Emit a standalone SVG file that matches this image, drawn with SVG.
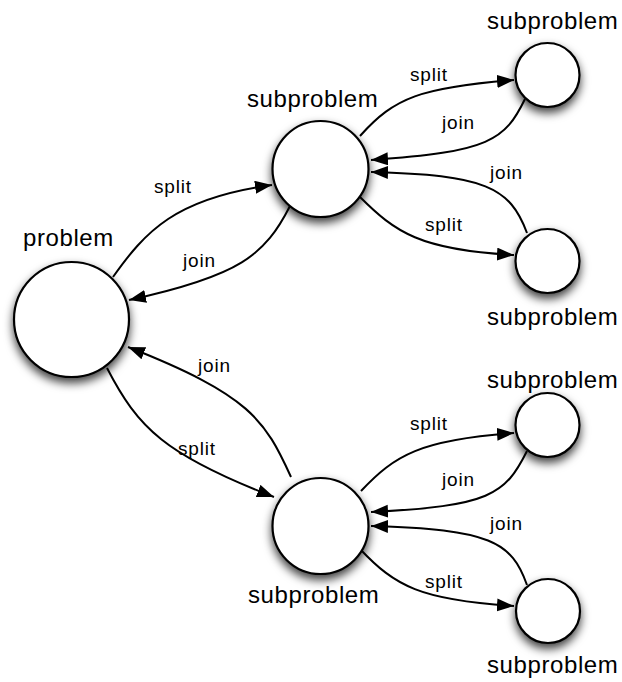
<svg xmlns="http://www.w3.org/2000/svg" width="622" height="682" viewBox="0 0 622 682">
  <style>
    .node { fill: #ffffff; stroke: #000000; stroke-width: 2.2; filter: url(#shadow); }
    .edge { fill: none; stroke: #000000; stroke-width: 2; marker-end: url(#arrow); }
    .title { font-family: "Liberation Sans", Arial, sans-serif; font-size: 24px; letter-spacing: 0.6px; fill: #000000; }
    .lbl { font-family: "Liberation Sans", Arial, sans-serif; font-size: 19px; letter-spacing: 0.8px; fill: #000000; }
  </style>
  <defs>
    <filter id="shadow" x="-40%" y="-40%" width="180%" height="190%">
      <feDropShadow dx="0" dy="5" stdDeviation="5" flood-color="#000000" flood-opacity="0.75"/>
    </filter>
    <marker id="arrow" markerUnits="userSpaceOnUse" markerWidth="18" markerHeight="14" refX="17" refY="6.5" orient="auto">
      <path d="M0,0 L17,6.5 L0,13 z" fill="#000000"/>
    </marker>
  </defs>

  <rect width="622" height="682" fill="#ffffff"/>

  <!-- split / join connectors -->
  <g id="connectors">
    <path class="edge" d="M113,277 C145,232 175,198 272,185"/>
    <path class="edge" d="M290,206 C265,255 240,276 129,300"/>
    <path class="edge" d="M360,136 C395,97 420,88 514,80"/>
    <path class="edge" d="M525,99 C505,140 490,152 371,160"/>
    <path class="edge" d="M527,233 C510,187 485,175 371,172"/>
    <path class="edge" d="M360,197 C395,232 420,250 514,255"/>

    <path class="edge" d="M107,368 C138,428 165,455 274,497"/>
    <path class="edge" d="M291,477 C265,420 250,395 128,347"/>
    <path class="edge" d="M361,491 C395,455 420,440 514,433"/>
    <path class="edge" d="M527,451 C505,495 490,506 371,512"/>
    <path class="edge" d="M527,585 C512,542 490,529 371,526"/>
    <path class="edge" d="M360,549 C395,586 420,600 514,606"/>
  </g>

  <g id="connector-labels">
    <text class="lbl" x="154" y="193">split</text>
    <text class="lbl" x="183" y="267">join</text>
    <text class="lbl" x="410" y="81">split</text>
    <text class="lbl" x="442" y="129">join</text>
    <text class="lbl" x="490" y="179">join</text>
    <text class="lbl" x="425" y="231">split</text>
    <text class="lbl" x="198" y="372">join</text>
    <text class="lbl" x="178" y="455">split</text>
    <text class="lbl" x="410" y="430">split</text>
    <text class="lbl" x="442" y="486">join</text>
    <text class="lbl" x="490" y="530">join</text>
    <text class="lbl" x="425" y="588">split</text>
  </g>

  <g id="problem">
    <circle class="node" cx="71.5" cy="319.5" r="57.5"/>
    <text class="title" x="23" y="246">problem</text>
  </g>

  <g id="sub-top">
    <circle class="node" cx="320.5" cy="169" r="48"/>
    <text class="title" x="247" y="107">subproblem</text>
  </g>

  <g id="sub-bottom">
    <circle class="node" cx="320.5" cy="526" r="48"/>
    <text class="title" x="248" y="603">subproblem</text>
  </g>

  <g id="sub-top-a">
    <circle class="node" cx="547.5" cy="75" r="32"/>
    <text class="title" x="487" y="29">subproblem</text>
  </g>

  <g id="sub-top-b">
    <circle class="node" cx="547.5" cy="261" r="32"/>
    <text class="title" x="487" y="325">subproblem</text>
  </g>

  <g id="sub-bottom-a">
    <circle class="node" cx="547.5" cy="425" r="32"/>
    <text class="title" x="487" y="388">subproblem</text>
  </g>

  <g id="sub-bottom-b">
    <circle class="node" cx="548" cy="611" r="32"/>
    <text class="title" x="487" y="673">subproblem</text>
  </g>
</svg>
